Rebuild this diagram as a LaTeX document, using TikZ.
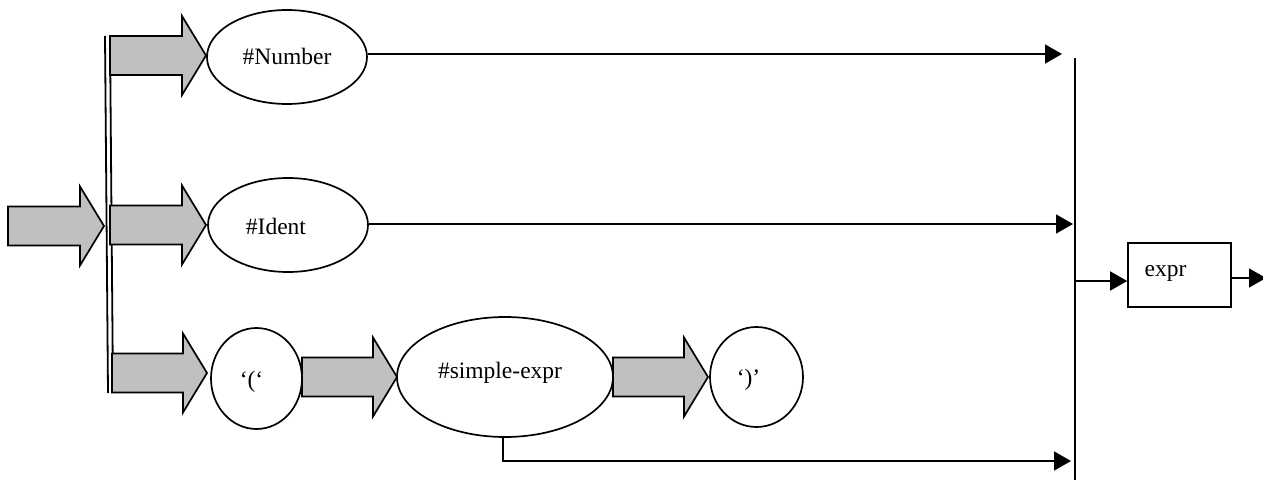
\documentclass[tikz,border=0pt]{standalone}
\usepackage{fontspec}
\setmainfont{Liberation Serif}
\usetikzlibrary{arrows.meta,shapes.geometric}
\definecolor{fatgray}{RGB}{192,192,192}
\tikzset{
  oval/.style={draw,ellipse,line width=1.7pt,inner sep=0pt},
  fat/.style={draw,fill=fatgray,line width=1.7pt,line join=miter},
  conn/.style={line width=1.6pt,-{Triangle[length=17pt,width=19pt]}},
  plain/.style={line width=1.6pt},
  txt/.style={font=\fontsize{23.5}{26}\selectfont},
}
% fat arrow: start x, body end x, tip x, centre y
\newcommand{\fatarr}[4]{%
  \draw[fat] (#1,#4-19.5) -- (#2,#4-19.5) -- (#2,#4-39.5) -- (#3,#4)
    -- (#2,#4+39.5) -- (#2,#4+19.5) -- (#1,#4+19.5) -- cycle;}
\begin{document}
\begin{tikzpicture}[x=1pt,y=-1pt]
\useasboundingbox (0,0) rectangle (1263,481);

% double bar
\draw[line width=1.8pt] (105,36) -- (108,393);
\draw[line width=1.8pt] (110,36) -- (113,393);

% fat arrows
\fatarr{8}{80}{104}{226}
\fatarr{110}{182}{206}{55.5}
\fatarr{110}{182}{206}{225}
\fatarr{112}{183}{207}{373}
\fatarr{302}{373}{397}{377}
\fatarr{613}{684}{708}{377}

% ovals
\node[oval,minimum width=160pt,minimum height=94pt,
  label={[txt,xshift=0pt,yshift=1pt]center:\#Number}] (num) at (287,57) {};
\node[oval,minimum width=160pt,minimum height=94pt,
  label={[txt,xshift=-12pt,yshift=-1pt]center:\#Ident}] (ident) at (288,225) {};
\node[oval,minimum width=91pt,minimum height=101pt,
  label={[txt,xshift=-5pt,yshift=-3pt]center:‘(‘}] (lp) at (256.5,378.5) {};
\node[oval,minimum width=216pt,minimum height=120pt,
  label={[txt,xshift=-5pt,yshift=4pt]center:\#simple-expr}] (se) at (505,377) {};
\node[oval,minimum width=93pt,minimum height=100pt,
  label={[txt,xshift=-8pt,yshift=-3pt]center:‘)’}] (rp) at (756.5,377) {};

% right collector
\coordinate (bartop) at (1075,58);
\coordinate (barbot) at (1075,480);
\draw[plain] (bartop) -- (barbot);
\coordinate (t1) at (1062,54);
\coordinate (t2) at (1073,224);
\coordinate (t3) at (1071,461);
\coordinate (b1) at (1075,281);
\coordinate (sebot) at (503,437);

\draw[conn] (num.east |- t1) -- (t1);
\draw[conn] (ident.east |- t2) -- (t2);
\draw[conn] (sebot) -- (503,461) -- (t3);

% expr box
\node[draw,line width=1.7pt,minimum width=103pt,minimum height=64pt,inner sep=0pt,
  label={[txt,xshift=-14pt,yshift=2pt]center:expr}] (expr) at (1179.5,275) {};
\draw[conn] (b1) -- (expr.west |- b1);
\coordinate (out) at (1266,278);
\draw[conn] (expr.east |- out) -- (out);
\end{tikzpicture}
\end{document}
